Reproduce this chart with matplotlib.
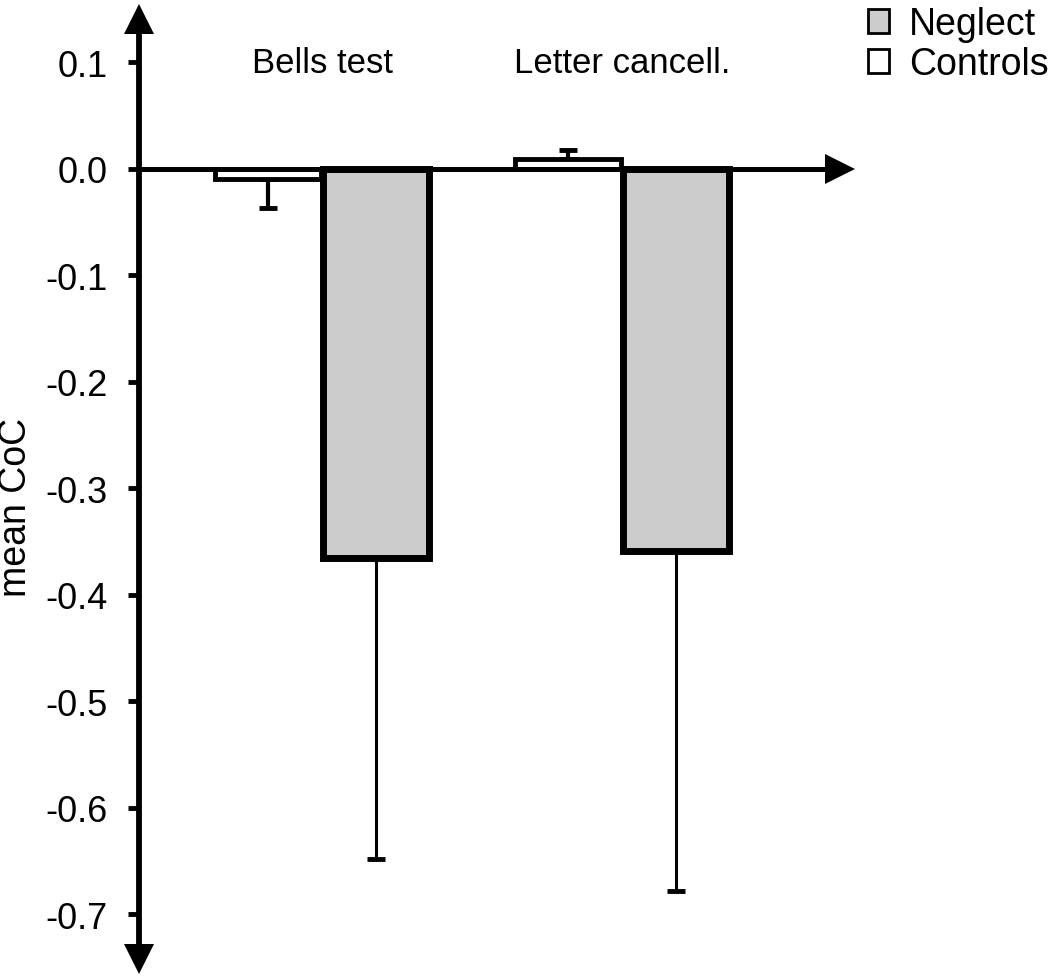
import numpy as np
import matplotlib
matplotlib.use('Agg')
import matplotlib.pyplot as plt
from matplotlib.patches import Patch
from matplotlib.ticker import FormatStrFormatter

plt.rcParams['font.family'] = ['Liberation Sans', 'DejaVu Sans']
plt.rcParams['axes.unicode_minus'] = False

## data
tests = ['Bells test', 'Letter cancell.']
controls = [-0.0095, 0.0089]
controls_err = [0.027, 0.0085]
neglect = [-0.365, -0.359]
neglect_err = [0.2825, 0.319]
yticks = [0.1, 0.0, -0.1, -0.2, -0.3, -0.4, -0.5, -0.6, -0.7]

x = np.arange(len(tests))
w = 0.355
off = 0.18

fig = plt.figure(figsize=(10.5, 9.78), dpi=100)
ax = fig.add_axes([138.5/1050, 1 - 960/978, 701/1050, 940/978])

## error bars only point away from zero
c_lo = [e if v < 0 else 0 for v, e in zip(controls, controls_err)]
c_hi = [e if v >= 0 else 0 for v, e in zip(controls, controls_err)]
n_lo = [e if v < 0 else 0 for v, e in zip(neglect, neglect_err)]
n_hi = [e if v >= 0 else 0 for v, e in zip(neglect, neglect_err)]

ax.bar(x - off, controls, w, color='white', edgecolor='black', linewidth=3.5, zorder=2)
ax.errorbar(x - off, controls, yerr=[c_lo, c_hi], fmt='none', ecolor='black',
            elinewidth=3, capsize=6.5, capthick=3.5, zorder=1)
ax.bar(x + off, neglect, w, color='#cccccc', edgecolor='black', linewidth=5, zorder=2)
ax.errorbar(x + off, neglect, yerr=[n_lo, n_hi], fmt='none', ecolor='black',
            elinewidth=2.2, capsize=6.5, capthick=3.5, zorder=1)

for xi, t in zip(x, tests):
    ax.text(xi, 0.091, t, ha='center', va='baseline', fontsize=25)

## axes config
ax.set_xlim(-0.6117, 1.725)
ax.set_ylim(-0.7418, 0.1408)
ax.set_yticks(yticks)
ax.yaxis.set_major_formatter(FormatStrFormatter('%.1f'))
ax.tick_params(axis='y', direction='out', length=8, width=3.5, labelsize=26, pad=14)
ax.set_xticks([])
for s in ['top', 'right']:
    ax.spines[s].set_visible(False)
ax.spines['bottom'].set_position(('data', 0))
ax.spines['left'].set_linewidth(4.2)
ax.spines['bottom'].set_linewidth(3.6)
ax.spines['bottom'].set_zorder(3)
ax.set_ylabel('mean CoC', fontsize=27)
ax.yaxis.set_label_coords(-0.149, 0.481)

## arrow heads
ax.plot(0, 1, '^k', ms=22, mew=0, transform=ax.transAxes, clip_on=False)
ax.plot(0, 0, 'vk', ms=22, mew=0, transform=ax.transAxes, clip_on=False)
ax.plot(1, 0, '>k', ms=22, mew=0, transform=ax.get_yaxis_transform(), clip_on=False)

handles = [Patch(facecolor='#cccccc', edgecolor='black', linewidth=2),
           Patch(facecolor='white', edgecolor='black', linewidth=2)]
fig.legend(handles, ['Neglect', 'Controls'], loc='upper right', bbox_to_anchor=(0.999, 0.993),
           frameon=False, fontsize=27, handlelength=0.55, handleheight=0.6,
           handletextpad=0.55, labelspacing=0.12, borderaxespad=0, borderpad=0)

plt.savefig('out.png', dpi=100)
